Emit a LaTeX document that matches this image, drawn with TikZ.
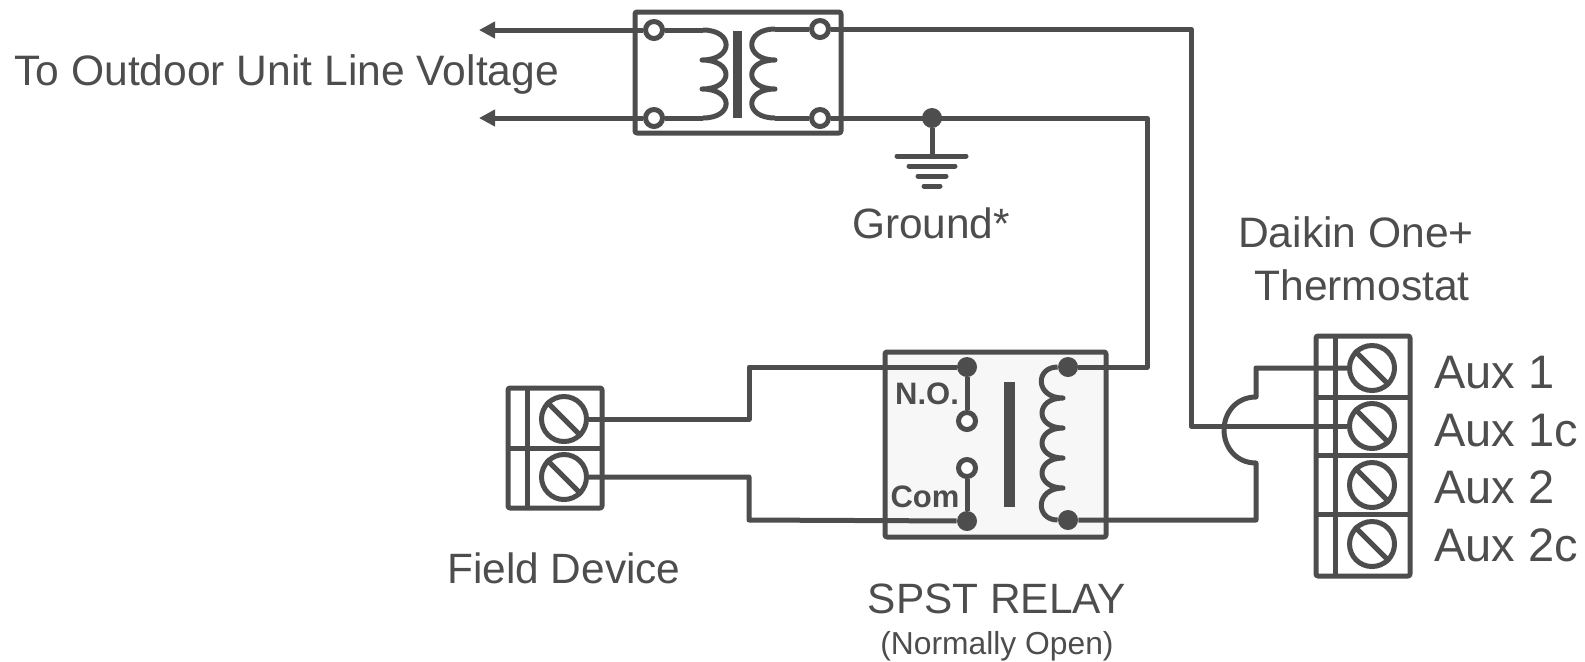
\documentclass[tikz,border=0pt]{standalone}
\usepackage{fontspec}
\setmainfont{Liberation Sans}
\usetikzlibrary{arrows.meta}
\definecolor{wirecol}{HTML}{4D4D4D}
\tikzset{
  wire/.style={draw=wirecol, line width=2.5pt, line join=round},
  boxline/.style={wire, rounded corners=1pt},
  core/.style={fill=wirecol, draw=none},
  hole/.style={circle, draw=wirecol, line width=2.5pt, fill=white, inner sep=0pt, minimum size=8.5pt},
  dot/.style={circle, fill=wirecol, inner sep=0pt, minimum size=10pt},
  screw/.style={circle, draw=wirecol, line width=2.5pt, inner sep=0pt, minimum size=22.5pt},
  label/.style={text=wirecol, inner sep=0pt, anchor=base, font=\fontsize{21.2pt}{25pt}\selectfont},
  auxlabel/.style={label, anchor=base west, font=\fontsize{23.5pt}{28pt}\selectfont},
  pinlabel/.style={label, font=\fontsize{15.5pt}{18pt}\selectfont\bfseries},
}
\begin{document}
\begin{tikzpicture}[x=0.5pt, y=-0.5pt]
\useasboundingbox (0,0) rectangle (1585,661);

% transformer
\draw[boxline] (635,12) rectangle (841,133);
\fill[core] (733,31) rectangle (742,118);
\node[hole] (xfa) at (654,30) {};
\node[hole] (xfb) at (654,118) {};
\node[hole] (xfc) at (820,29) {};
\node[hole] (xfd) at (820,118) {};
\coordinate (pritop) at (703,30);
\coordinate (pribot) at (703,118);
\coordinate (sectop) at (775,29);
\coordinate (secbot) at (775,118);
\coordinate (lineout) at (479,30);
\coordinate (lineret) at (479,118);
\draw[wire] (pritop) .. controls (734,30) and (734,60) .. (702,60)
  .. controls (734,60) and (734,89) .. (702,89)
  .. controls (734,89) and (734,118) .. (pribot);
\draw[wire] (sectop) .. controls (744,29) and (744,60) .. (775,60)
  .. controls (744,60) and (744,89) .. (775,89)
  .. controls (744,89) and (744,118) .. (secbot);
\draw[wire] (xfa) -- (pritop);
\draw[wire] (xfb) -- (pribot);
\draw[wire] (xfc) -- (sectop);
\draw[wire] (xfd) -- (secbot);
\draw[wire, -{Triangle[length=8pt, width=8pt]}] (xfa) -- (lineout);
\draw[wire, -{Triangle[length=8pt, width=8pt]}] (xfb) -- (lineret);

% ground
\node[dot] (gnddot) at (932,118) {};
\coordinate (gndbar) at (932,156);
\draw[wire] (gnddot) -- (gndbar);
\draw[wire, line cap=round] (897,156) -- (966,156);
\draw[wire, line cap=round] (909,166) -- (955,166);
\draw[wire, line cap=round] (918,176) -- (946,176);
\draw[wire, line cap=round] (924,186) -- (940,186);

% relay
\draw[boxline, fill=black!3] (885,352) rectangle (1106,537);
\fill[core] (1004,382) rectangle (1015,507);
\node[dot] (nodot) at (967,367) {};
\node[hole] (nohole) at (967,421) {};
\node[hole] (comhole) at (967,468) {};
\node[dot] (comdot) at (967,521) {};
\node[dot] (coila) at (1068,367) {};
\node[dot] (coilb) at (1068,520) {};
\draw[wire] (nodot) -- (nohole);
\draw[wire] (comhole) -- (comdot);
\draw[wire] (coila) .. controls (1035,367) and (1035,398) .. (1063,398)
  .. controls (1035,398) and (1035,428) .. (1063,428)
  .. controls (1035,428) and (1035,458) .. (1063,458)
  .. controls (1035,458) and (1035,488) .. (1063,488)
  .. controls (1035,488) and (1035,520) .. (coilb);
\node[pinlabel] (nolabel) at (927,404) {N.O.};
\node[pinlabel] (comlabel) at (925,507) {Com};

% field device
\draw[boxline] (508,388) rectangle (602,508);
\draw[wire] (508,448) -- (602,448);
\draw[wire] (527,388) -- (527,508);
\foreach \name/\y in {fa/419, fb/477} {
  \node[screw] (\name) at (564,\y) {};
  \draw[wire] (\name.135) -- (\name.315);
}

% thermostat
\draw[boxline] (1316,336) rectangle (1410,576);
\foreach \y in {397, 455, 514}
  \draw[wire] (1316,\y) -- (1410,\y);
\draw[wire] (1335,336) -- (1335,576);
\foreach \name/\y in {ta/368, tb/426, tc/485, td/544} {
  \node[screw] (\name) at (1372,\y) {};
  \draw[wire] (\name.135) -- (\name.315);
}

% wiring
\draw[wire] (fa.east) -| (749,367) -- (nodot);
\draw[wire] (fb.east) -| (749,520) -- (comdot);
\draw[wire] (xfc) -- (1191,29) -- (1191,426) -- (tb.west);
\draw[wire] (xfd) -- (1147,118) -- (1147,367) -- (coila);
\draw[wire] (coilb) -- (1256,520) -- (1256,463)
  .. controls (1236,463) and (1224,447) .. (1224,430)
  .. controls (1224,413) and (1236,397) .. (1256,397)
  -- (1256,368) -- (ta.west);

% labels
\node[label, anchor=base west, font=\fontsize{21.3pt}{26pt}\selectfont] (voltlabel) at (14,85) {To Outdoor Unit Line Voltage};
\node[label] (gndlabel) at (931,238) {Ground*};
\node[label, font=\fontsize{21.3pt}{26pt}\selectfont] (daikinlabel) at (1356,247) {Daikin One+};
\node[label, font=\fontsize{21.3pt}{26pt}\selectfont] (thermolabel) at (1362,300) {Thermostat};
\node[label] (fieldlabel) at (564,583) {Field Device};
\node[label] (relaylabel) at (997,613) {SPST RELAY};
\node[label, font=\fontsize{15.9pt}{19pt}\selectfont] (openlabel) at (997,654) {(Normally Open)};
\node[auxlabel] (auxa) at (1434,388) {Aux 1};
\node[auxlabel] (auxb) at (1434,446) {Aux 1c};
\node[auxlabel] (auxc) at (1434,503) {Aux 2};
\node[auxlabel] (auxd) at (1434,561) {Aux 2c};
\end{tikzpicture}
\end{document}
